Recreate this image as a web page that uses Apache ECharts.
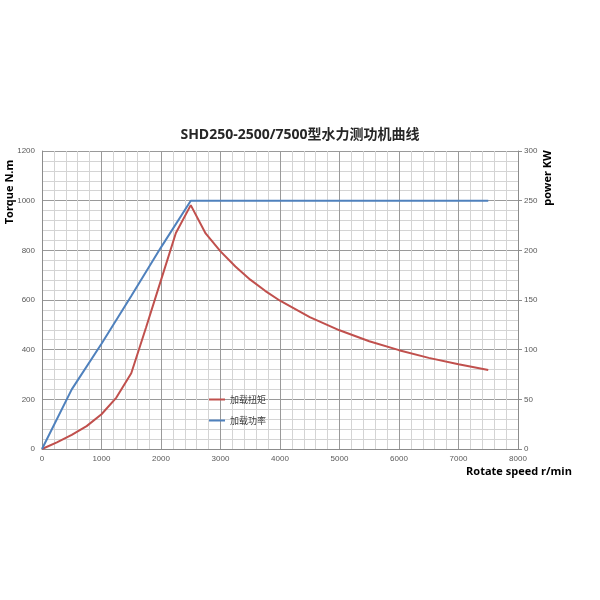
<!DOCTYPE html>
<html>
<head>
<meta charset="utf-8">
<script src="https://cdn.jsdelivr.net/npm/echarts@6/dist/echarts.min.js"></script>
<style>
html,body{margin:0;padding:0;background:#fff;}
#chart{width:600px;height:600px;}
</style>
</head>
<body>
<div id="chart"></div>
<script>
var titleText = 'SHD250-2500/7500型水力测功机曲线';
var torqueName = '加载扭矩';
var powerName = '加载功率';

var torqueSpeed = [0, 250, 500, 750, 1000, 1250, 1500, 1750, 2000, 2250, 2500, 2750, 3000, 3250, 3500, 3750, 4000, 4500, 5000, 5500, 6000, 6500, 7000, 7500];
var torqueValues = [0, 27, 57, 92, 140, 207, 305, 490, 680, 870, 982, 868, 796, 735, 682, 637, 597, 531, 478, 434, 398, 367, 341, 318];

var powerSpeed = [0, 500, 1000, 1500, 2000, 2500, 7500];
var powerValues = [0, 60, 106, 154, 203, 250, 250];

var xTicks = [0, 1000, 2000, 3000, 4000, 5000, 6000, 7000, 8000];
var torqueTicks = [0, 200, 400, 600, 800, 1000, 1200];
var powerTicks = [0, 50, 100, 150, 200, 250, 300];

function pairs(xs, ys) {
  return xs.map(function (x, i) { return [x, ys[i]]; });
}
function plain(v) { return String(v); }

var labelStyle = { color: '#595959', fontSize: 8, fontFamily: 'Liberation Sans', formatter: plain };
var nameStyleBase = { color: '#000', fontSize: 11, fontWeight: 'bold', fontFamily: 'Open Sans' };

var chart = echarts.init(document.getElementById('chart'), null, { renderer: 'canvas' });
chart.setOption({
  animation: false,
  backgroundColor: '#fff',
  title: {
    text: titleText,
    left: 'center',
    top: 123,
    textStyle: { fontSize: 14, fontWeight: 'bold', color: '#262626', fontFamily: 'Open Sans, Noto Sans CJK SC' }
  },
  legend: {
    orient: 'vertical',
    left: 204,
    top: 390,
    itemWidth: 16,
    itemHeight: 2,
    itemGap: 12,
    icon: 'rect',
    textStyle: { fontSize: 9, color: '#404040', fontFamily: 'Noto Sans CJK SC' },
    data: [torqueName, powerName]
  },
  grid: { left: 42, right: 82, top: 151, bottom: 151, containLabel: false, outerBoundsMode: 'none' },
  xAxis: {
    type: 'value',
    min: xTicks[0],
    max: xTicks[xTicks.length - 1],
    interval: 1000,
    name: 'Rotate speed r/min',
    nameLocation: 'middle',
    nameGap: 17,
    nameMoveOverlap: false,
    nameTextStyle: Object.assign({}, nameStyleBase, { padding: [0, 0, 0, 478] }),
    axisLine: { show: true, lineStyle: { color: '#8c8c8c', width: 1 } },
    axisTick: { show: false },
    axisLabel: Object.assign({}, labelStyle, { margin: 6 }),
    splitLine: { show: true, lineStyle: { color: '#9a9a9a', width: 1 } },
    minorTick: { show: false, splitNumber: 5 },
    minorSplitLine: { show: true, lineStyle: { color: '#d4d4d4', width: 1 } }
  },
  yAxis: [
    {
      type: 'value',
      min: torqueTicks[0],
      max: torqueTicks[torqueTicks.length - 1],
      interval: 200,
      name: 'Torque N.m',
      nameLocation: 'middle',
      nameRotate: 90,
      nameGap: 27,
      nameMoveOverlap: false,
      nameTextStyle: Object.assign({}, nameStyleBase, { padding: [0, 0, 0, 216] }),
      axisLine: { show: true, lineStyle: { color: '#8c8c8c', width: 1 } },
      axisTick: { show: false },
      axisLabel: Object.assign({}, labelStyle, { margin: 7 }),
      splitLine: { show: true, lineStyle: { color: '#9a9a9a', width: 1 } },
      minorTick: { show: false, splitNumber: 5 },
      minorSplitLine: { show: true, lineStyle: { color: '#d4d4d4', width: 1 } }
    },
    {
      type: 'value',
      min: powerTicks[0],
      max: powerTicks[powerTicks.length - 1],
      interval: 50,
      position: 'right',
      name: 'power KW',
      nameLocation: 'middle',
      nameRotate: 90,
      nameGap: 24,
      nameMoveOverlap: false,
      nameTextStyle: Object.assign({}, nameStyleBase, { padding: [0, 0, 0, 244] }),
      axisLine: { show: true, lineStyle: { color: '#8c8c8c', width: 1 } },
      axisTick: { show: true, length: 4, lineStyle: { color: '#8c8c8c' } },
      axisLabel: Object.assign({}, labelStyle, { margin: 6 }),
      splitLine: { show: false }
    }
  ],
  series: [
    {
      name: torqueName,
      type: 'line',
      yAxisIndex: 0,
      data: pairs(torqueSpeed, torqueValues),
      showSymbol: false,
      smooth: false,
      lineStyle: { color: '#C0504D', width: 2 },
      itemStyle: { color: '#C0504D' }
    },
    {
      name: powerName,
      type: 'line',
      yAxisIndex: 1,
      data: pairs(powerSpeed, powerValues),
      showSymbol: false,
      lineStyle: { color: '#4F81BD', width: 2 },
      itemStyle: { color: '#4F81BD' }
    }
  ]
});
</script>
</body>
</html>
